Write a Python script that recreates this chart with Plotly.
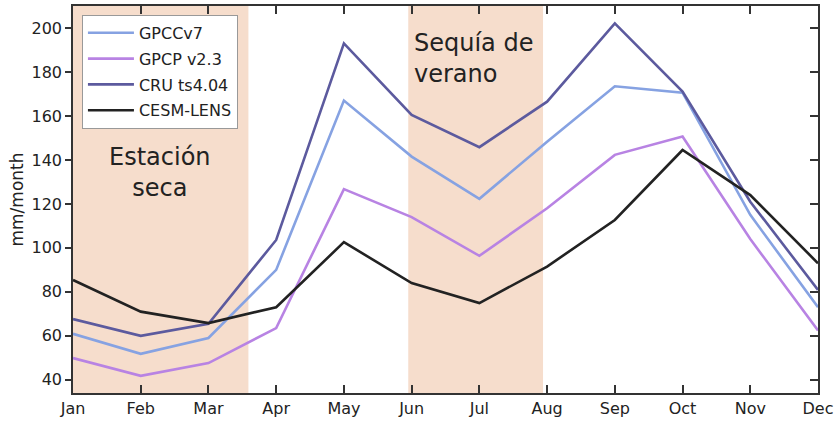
import plotly.graph_objects as go

months = ["Jan", "Feb", "Mar", "Apr", "May", "Jun", "Jul", "Aug", "Sep", "Oct", "Nov", "Dec"]
gpcc = [60.9, 51.8, 59.0, 90.0, 167.0, 141.5, 122.3, 148.3, 173.5, 170.6, 115.0, 73.0]
gpcp = [49.9, 41.8, 47.6, 63.5, 126.7, 114.0, 96.4, 118.0, 142.3, 150.6, 104.0, 62.4]
cru = [67.6, 60.0, 65.5, 103.6, 193.0, 160.5, 145.8, 166.5, 202.1, 171.1, 121.0, 80.9]
cesm = [85.4, 71.0, 65.8, 73.0, 102.6, 84.0, 74.9, 91.5, 112.7, 144.5, 124.0, 93.0]
y_ticks = [40, 60, 80, 100, 120, 140, 160, 180, 200]
dry_season = [0, 2.59]
summer_drought = [4.95, 6.94]

x = list(range(len(months)))
series = [
    ("GPCCv7", gpcc, "#86A2E2"),
    ("GPCP v2.3", gpcp, "#B883E3"),
    ("CRU ts4.04", cru, "#5C5A9E"),
    ("CESM-LENS", cesm, "#222222"),
]

fig = go.Figure()
for name, vals, col in series:
    fig.add_trace(go.Scatter(x=x, y=vals, mode="lines", name=name, legendgroup=name,
                             line=dict(color=col, width=2.6)))
# dummy trace for mirrored axes
fig.add_trace(go.Scatter(x=[0], y=[100], xaxis="x2", yaxis="y2", mode="markers",
                         marker=dict(opacity=0), showlegend=False, hoverinfo="skip"))

shade = "#F6DDCC"
for x0, x1 in (dry_season, summer_drought):
    fig.add_shape(type="rect", xref="x", yref="paper", x0=x0, x1=x1, y0=0, y1=1,
                  fillcolor=shade, line=dict(width=0), layer="below")

fig.add_annotation(x=1.28, y=134.5, xref="x", yref="y", text="Estación<br>seca",
                   showarrow=False, font=dict(size=24, color="#222"), align="center",
                   yanchor="middle")
fig.add_annotation(x=5.0, y=186, xref="x", yref="y", text="Sequía de<br>verano",
                   showarrow=False, font=dict(size=24, color="#222"), align="left",
                   xanchor="left", yanchor="middle")

axcol = "#333"
fig.update_layout(
    width=839, height=422,
    margin=dict(l=73, r=21, t=6, b=29),
    paper_bgcolor="white", plot_bgcolor="white",
    font=dict(family="DejaVu Sans", color="#222"),
    showlegend=True,
    legend=dict(x=0.012, y=0.977, xanchor="left", yanchor="top",
                bgcolor="white", bordercolor="#999", borderwidth=1,
                font=dict(size=16, color="#222"), itemwidth=46,
                tracegroupgap=2),
    xaxis=dict(range=[0, 11], tickmode="array", tickvals=x, ticktext=months,
               ticks="inside", ticklen=8, tickwidth=1.5, tickcolor=axcol,
               showline=True, linecolor=axcol, linewidth=1.5, showgrid=False,
               zeroline=False, tickfont=dict(size=16, color="#222"), automargin=False),
    yaxis=dict(range=[34, 210], tickmode="array", tickvals=y_ticks,
               ticks="outside", ticklen=6, tickwidth=1.5, tickcolor=axcol,
               showline=True, linecolor=axcol, linewidth=1.5, showgrid=False,
               zeroline=False, tickfont=dict(size=16, color="#222"), automargin=False,
               title=dict(text="mm/month", font=dict(size=17, color="#222"), standoff=4)),
    xaxis2=dict(range=[0, 11], overlaying="x", side="top", anchor="y2",
                tickmode="array", tickvals=x, showticklabels=False,
                ticks="inside", ticklen=8, tickwidth=1.5, tickcolor=axcol,
                showline=True, linecolor=axcol, linewidth=1.5, showgrid=False, zeroline=False,
                automargin=False),
    yaxis2=dict(range=[34, 210], overlaying="y", side="right", anchor="x2",
                tickmode="array", tickvals=y_ticks, showticklabels=False,
                ticks="inside", ticklen=8, tickwidth=1.5, tickcolor=axcol,
                showline=True, linecolor=axcol, linewidth=1.5, showgrid=False, zeroline=False,
                automargin=False),
)

fig.write_html("out.html", config={"displayModeBar": False},
               post_script="document.body.style.margin='0';document.body.style.padding='0';")
